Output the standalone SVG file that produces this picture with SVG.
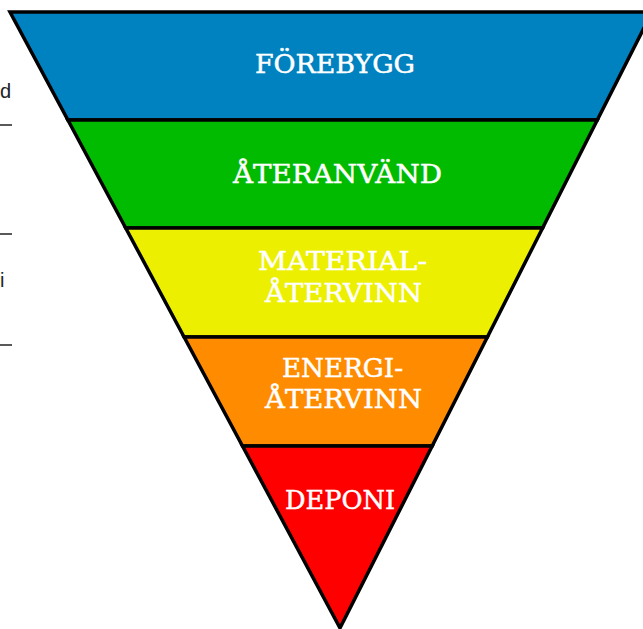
<svg xmlns="http://www.w3.org/2000/svg" width="643" height="629" viewBox="0 0 643 629">
<style>
.band{stroke:#000;stroke-width:3.5;stroke-linejoin:miter}
.lbl{font-family:"DejaVu Serif",serif;font-size:26px;fill:#fff;stroke:#fff;stroke-width:0.5}
.side{font-family:"Liberation Sans",Arial,sans-serif;font-size:20px;fill:#222}
.tick{stroke:#222;stroke-width:1.5}
</style>
<rect width="643" height="629" fill="#fff"/>
<g id="left-fragments">
<text class="side" x="0" y="98">d</text>
<text class="side" x="0" y="287">i</text>
<line class="tick" x1="0" y1="125" x2="12" y2="125"/>
<line class="tick" x1="0" y1="234" x2="12" y2="234"/>
<line class="tick" x1="0" y1="345" x2="12" y2="345"/>
</g>
<g id="forebygg">
<polygon class="band" fill="#0082C0" points="10,12 652,12 597.3,120 67.9,120"/>
<text class="lbl" x="255" y="73" textLength="160" lengthAdjust="spacingAndGlyphs">FÖREBYGG</text>
</g>
<g id="ateranvand">
<polygon class="band" fill="#00BB00" points="67.9,120 597.3,120 542.6,228 125.7,228"/>
<text class="lbl" x="233" y="183" textLength="209" lengthAdjust="spacingAndGlyphs">ÅTERANVÄND</text>
</g>
<g id="materialatervinn">
<polygon class="band" fill="#ECF000" points="125.7,228 542.6,228 487.4,337 184.1,337"/>
<text class="lbl" x="258" y="270" textLength="169" lengthAdjust="spacingAndGlyphs">MATERIAL-</text>
<text class="lbl" x="265" y="302" textLength="157" lengthAdjust="spacingAndGlyphs">ÅTERVINN</text>
</g>
<g id="energiatervinn">
<polygon class="band" fill="#FF8C00" points="184.1,337 487.4,337 432.2,446 242.5,446"/>
<text class="lbl" x="282" y="377" textLength="121" lengthAdjust="spacingAndGlyphs">ENERGI-</text>
<text class="lbl" x="265" y="408" textLength="157" lengthAdjust="spacingAndGlyphs">ÅTERVINN</text>
</g>
<g id="deponi">
<polygon class="band" fill="#FF0000" points="242.5,446 432.2,446 340,628"/>
<text class="lbl" x="285" y="509" textLength="110" lengthAdjust="spacingAndGlyphs">DEPONI</text>
</g>
<g id="connectors"></g>
</svg>
